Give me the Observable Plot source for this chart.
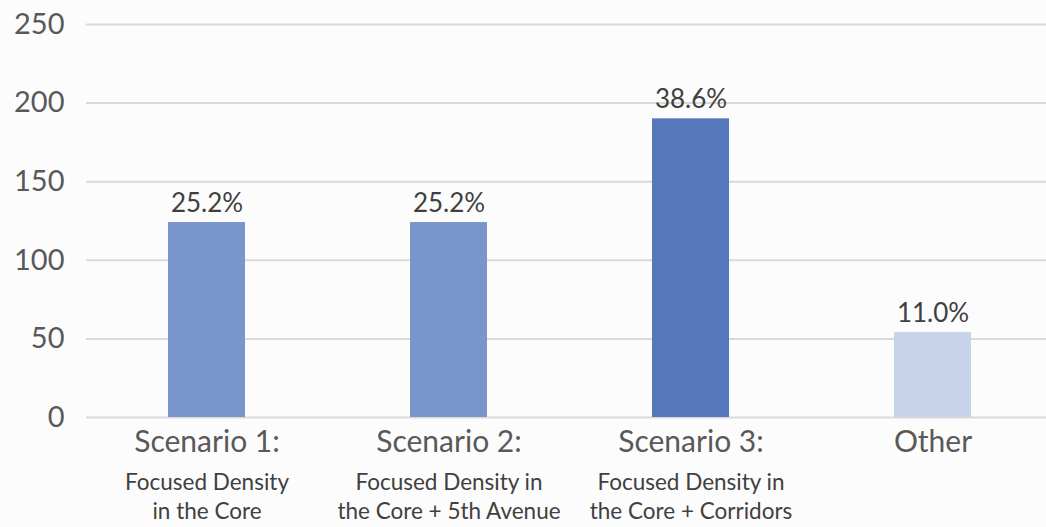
<!DOCTYPE html>
<html>
<head>
<meta charset="utf-8">
<script src="https://cdn.jsdelivr.net/npm/d3@7"></script>
<script src="https://cdn.jsdelivr.net/npm/@observablehq/plot@0.6"></script>
<style>
  html, body { margin: 0; padding: 0; background: #fdfcfc; }
  #chart svg { display: block; background: #fdfcfc; }
</style>
</head>
<body>
<div id="chart"></div>
<script>
const categories = ["Scenario 1", "Scenario 2", "Scenario 3", "Other"];
const mainLabels = ["Scenario 1:", "Scenario 2:", "Scenario 3:", "Other"];
const subLabels = ["Focused Density\nin the Core", "Focused Density in\nthe Core + 5th Avenue", "Focused Density in\nthe Core + Corridors", ""];
const values = [124, 124, 190, 54];
const percentLabels = ["25.2%", "25.2%", "38.6%", "11.0%"];
const barColors = ["#7896cc", "#7896cc", "#5578ba", "#c6d3ea"];
const yTicks = [0, 50, 100, 150, 200, 250];

const data = categories.map((c, i) => ({cat: c, value: values[i], label: percentLabels[i], color: barColors[i]}));
const mainOf = Object.fromEntries(categories.map((c, i) => [c, mainLabels[i]]));
const subOf = Object.fromEntries(categories.map((c, i) => [c, subLabels[i]]));

const chart = Plot.plot({
  width: 1046,
  height: 527,
  marginLeft: 86,
  marginRight: 0,
  marginTop: 24,
  marginBottom: 110,
  style: {fontFamily: "Lato, 'Open Sans', sans-serif", background: "#fdfcfc"},
  x: {domain: categories, range: [86, 1054], paddingInner: 0.68, paddingOuter: 0.34, label: null},
  y: {domain: [0, 250], label: null},
  marks: [
    Plot.ruleY(yTicks, {stroke: "#d9d9d9", strokeWidth: 2}),
    Plot.barY(data, {x: "cat", y: "value", fill: "color"}),
    Plot.text(data, {x: "cat", y: "value", text: "label", dy: -11, lineAnchor: "bottom", fontSize: 26, fill: "#404040"}),
    Plot.axisY(yTicks, {tickSize: 0, tickPadding: 22, fontSize: 29, color: "#595959", label: null}),
    Plot.axisX({tickSize: 0, tickPadding: 13, fontSize: 30, color: "#595959", tickFormat: d => mainOf[d], label: null}),
    Plot.axisX({tickSize: 0, tickPadding: 52, fontSize: 22.5, lineHeight: 1.28, color: "#404040", tickFormat: d => subOf[d], label: null})
  ]
});
document.getElementById("chart").appendChild(chart);
</script>
</body>
</html>
